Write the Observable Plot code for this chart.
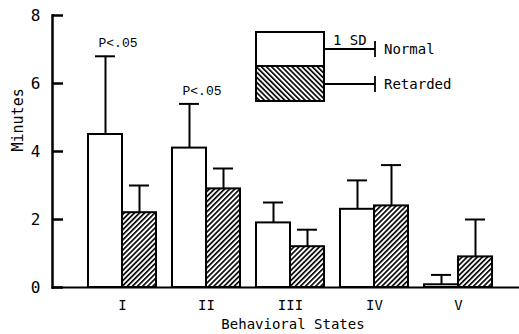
<!DOCTYPE html>
<html>
<head>
<meta charset="utf-8">
<script src="https://cdn.jsdelivr.net/npm/d3@7"></script>
<script src="https://cdn.jsdelivr.net/npm/@observablehq/plot@0.6"></script>
<style>
  html, body { margin: 0; padding: 0; background: white; }
</style>
</head>
<body>
<div id="chart"></div>
<script>
// ---- data ----
const states = ["I", "II", "III", "IV", "V"];
const normalMean = [4.5, 4.1, 1.9, 2.3, 0.08];
const normalSD = [2.3, 1.3, 0.6, 0.85, 0.29];
const retardedMean = [2.2, 2.9, 1.2, 2.4, 0.9];
const retardedSD = [0.8, 0.6, 0.5, 1.2, 1.1];
const notes = ["P<.05", "P<.05", "", "", ""];
const yTicks = [0, 2, 4, 6, 8];
const groups = ["Normal", "Retarded"];

const normal = states.map((s, i) => ({state: s, mean: normalMean[i], sd: normalSD[i], note: notes[i]}));
const retarded = states.map((s, i) => ({state: s, mean: retardedMean[i], sd: retardedSD[i]}));
const upper = d => d.mean + d.sd;

const NS = "http://www.w3.org/2000/svg";
function el(name, attrs, parent) {
  const e = document.createElementNS(NS, name);
  for (const k in attrs) e.setAttribute(k, attrs[k]);
  if (parent) parent.appendChild(e);
  return e;
}

function defsMark() {
  const defs = el("defs", {});
  for (const [id, ang] of [["hatchBar", 45], ["hatchLeg", -45]]) {
    const p = el("pattern", {id, patternUnits: "userSpaceOnUse", width: 3.6, height: 3.6, patternTransform: `rotate(${ang})`}, defs);
    el("rect", {x: 0, y: 0, width: 3.6, height: 3.6, fill: "white"}, p);
    el("line", {x1: 0.8, y1: 0, x2: 0.8, y2: 3.6, stroke: "black", "stroke-width": 1.7}, p);
  }
  return defs;
}

function legendMark() {
  const g = el("g", {"font-family": "DejaVu Sans Mono", "font-size": 14, fill: "black", "text-anchor": "start"});
  el("rect", {x: 256, y: 32, width: 68, height: 34, fill: "white", stroke: "black", "stroke-width": 2}, g);
  el("rect", {x: 256, y: 66, width: 68, height: 35, fill: "url(#hatchLeg)", stroke: "black", "stroke-width": 2}, g);
  const rows = [[49, groups[0]], [84, groups[1]]];
  for (const [y, label] of rows) {
    el("line", {x1: 324, y1: y, x2: 375, y2: y, stroke: "black", "stroke-width": 1.8}, g);
    el("line", {x1: 375, y1: y - 8, x2: 375, y2: y + 8, stroke: "black", "stroke-width": 1.8}, g);
    const t = el("text", {x: 384, y: y, dy: "0.35em"}, g);
    t.textContent = label;
  }
  const sd = el("text", {x: 333, y: 40, dy: "0.35em"}, g);
  sd.textContent = "1 SD";
  return g;
}

const chart = Plot.plot({
  width: 519,
  height: 334,
  marginLeft: 52,
  marginRight: 0,
  marginTop: 15,
  marginBottom: 47,
  style: {fontFamily: "DejaVu Sans Mono", fontSize: "14px", background: "white", color: "black"},
  x: {domain: states, paddingInner: 0.193, paddingOuter: 0.368, align: 0.565},
  y: {domain: [0, 8]},
  marks: [
    defsMark,
    // bars
    Plot.barY(normal, {x: "state", y: "mean", fill: "white", stroke: "black", strokeWidth: 2, insetRight: 34}),
    Plot.barY(retarded, {x: "state", y: "mean", fill: "url(#hatchBar)", stroke: "black", strokeWidth: 2, insetLeft: 34}),
    // error bars (upper only)
    Plot.ruleX(normal, {x: "state", y1: "mean", y2: upper, dx: -17, stroke: "black", strokeWidth: 2}),
    Plot.ruleX(retarded, {x: "state", y1: "mean", y2: upper, dx: 17, stroke: "black", strokeWidth: 2}),
    Plot.tickY(normal, {x: "state", y: upper, insetLeft: 7, insetRight: 41, stroke: "black", strokeWidth: 2}),
    Plot.tickY(retarded, {x: "state", y: upper, insetLeft: 41, insetRight: 7, stroke: "black", strokeWidth: 2}),
    // significance notes
    Plot.text(normal.filter(d => d.note), {x: "state", y: upper, text: "note", dx: -4.5, dy: -13, fontFamily: "Liberation Mono", fontSize: 13, fill: "black"}),
    // axes
    Plot.frame({anchor: "left", stroke: "black", strokeWidth: 2.5}),
    Plot.frame({anchor: "bottom", stroke: "black", strokeWidth: 2}),
    Plot.tickY(yTicks, {y: d => d, insetRight: 456, stroke: "black", strokeWidth: 2.5}),
    Plot.axisY({ticks: yTicks, tickSize: 0, tickPadding: 12, fontSize: 16, label: null}),
    Plot.axisX({tickSize: 0, tickPadding: 13, fontSize: 14, label: null}),
    Plot.text(["Minutes"], {frameAnchor: "left", rotate: -90, dx: -34, fontSize: 15, fill: "black"}),
    Plot.text(["Behavioral States"], {frameAnchor: "bottom", dx: 7, dy: 41, fontSize: 14, fill: "black"}),
    legendMark
  ]
});

document.getElementById("chart").appendChild(chart);
</script>
</body>
</html>
